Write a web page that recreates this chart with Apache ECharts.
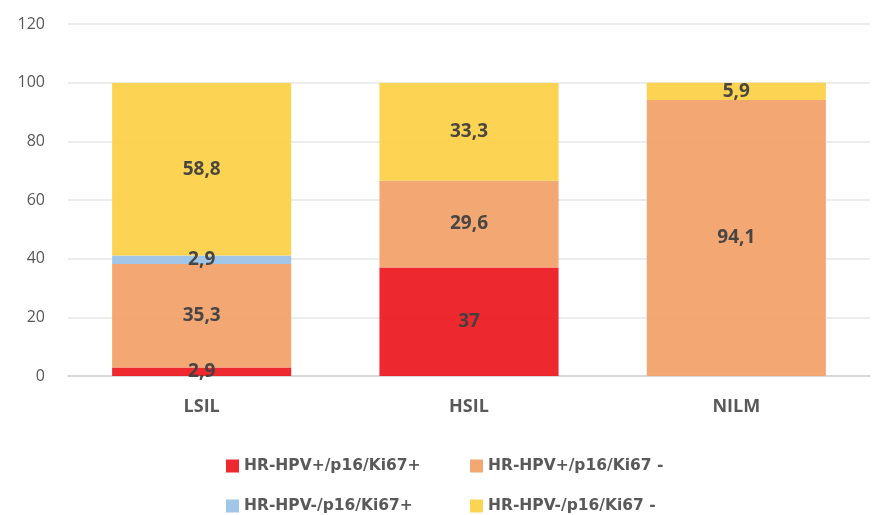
<!DOCTYPE html>
<html>
<head>
  <meta charset="UTF-8">
  <title>HPV p16/Ki67</title>
  <script src="https://cdn.jsdelivr.net/npm/echarts@6/dist/echarts.min.js"></script>
</head>
<body style="margin:0">
  <div id="bar" style="width:873px; height:515px;"></div>
  <script>
    var categories = ['LSIL', 'HSIL', 'NILM'];
    var seriesNames = ['HR-HPV+/p16/Ki67+', 'HR-HPV+/p16/Ki67 -', 'HR-HPV-/p16/Ki67+', 'HR-HPV-/p16/Ki67 -'];
    var posPos = [2.9, 37, 0];
    var posNeg = [35.3, 29.6, 94.1];
    var negPos = [2.9, 0, 0];
    var negNeg = [58.8, 33.3, 5.9];
    var yTicks = [0, 20, 40, 60, 80, 100, 120];

    var colors = ['#ED1C24', '#F2A36D', '#9DC3E6', '#FDD14B'];
    var font = '"Open Sans", "Liberation Sans", sans-serif';
    var chart = echarts.init(document.getElementById('bar'), null, {renderer: 'canvas'});

    function makeSeries(name, data, color) {
      return {
        name: name,
        type: 'bar',
        stack: 'all',
        barWidth: '67%',
        data: data,
        itemStyle: {color: color, opacity: 0.95},
        label: {
          show: true,
          position: 'inside',
          fontFamily: font,
          fontSize: 19,
          fontWeight: 'bold',
          color: '#404040',
          formatter: function (p) {
            return p.value === 0 ? '' : String(p.value).replace('.', ',');
          }
        }
      };
    }

    // one legend per item so the 2x2 layout lines up like the original
    var legendPos = [[221, 453], [465, 453], [221, 493], [465, 493]];
    var legends = seriesNames.map(function (name, i) {
      return {
        data: [name], left: legendPos[i][0], top: legendPos[i][1],
        itemWidth: 13, itemHeight: 13, itemGap: 6, icon: 'rect',
        textStyle: {fontFamily: '"DejaVu Sans", sans-serif', fontSize: 15.5, fontWeight: 'bold', color: '#595959'}
      };
    });

    chart.setOption({
      animation: false,
      grid: {left: 68, right: 3, top: 24, bottom: 139},
      legend: legends,
      xAxis: {
        type: 'category',
        data: categories,
        axisTick: {show: false},
        axisLine: {lineStyle: {color: '#D0D0D0', width: 1.5}},
        axisLabel: {fontFamily: font, fontSize: 18, fontWeight: 'bold', color: '#595959', margin: 22}
      },
      yAxis: {
        type: 'value',
        min: yTicks[0],
        max: yTicks[yTicks.length - 1],
        interval: 20,
        axisLine: {show: false},
        axisTick: {show: false},
        splitLine: {lineStyle: {color: '#E6E6E6', width: 1.5}},
        axisLabel: {fontFamily: font, fontSize: 16, color: '#595959', margin: 23}
      },
      series: [
        makeSeries(seriesNames[0], posPos, colors[0]),
        makeSeries(seriesNames[1], posNeg, colors[1]),
        makeSeries(seriesNames[2], negPos, colors[2]),
        makeSeries(seriesNames[3], negNeg, colors[3])
      ]
    });
  </script>
</body>
</html>
